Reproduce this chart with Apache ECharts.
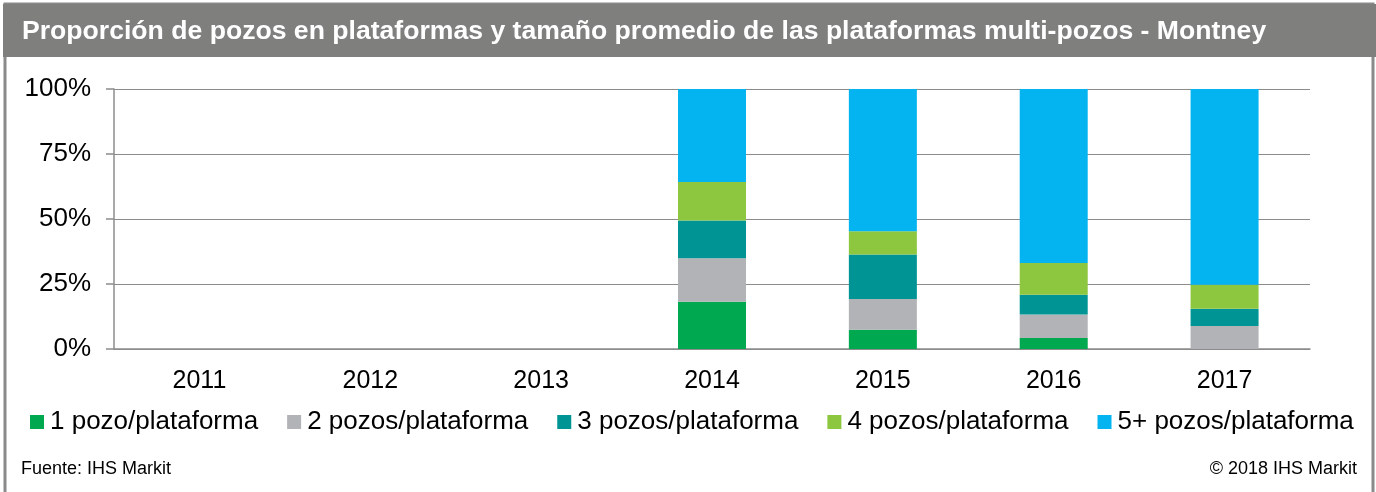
<!DOCTYPE html>
<html>
<head>
<meta charset="utf-8">
<script src="https://cdn.jsdelivr.net/npm/echarts@6/dist/echarts.min.js"></script>
<style>
  html, body { margin: 0; padding: 0; background: #fff; }
  #chart { width: 1376px; height: 492px; }
</style>
</head>
<body>
<div id="chart"></div>
<script>
const years = ['2011', '2012', '2013', '2014', '2015', '2016', '2017']

// shares in % per year (no wells before 2014)
const one = [null, null, null, 18.2, 7.4, 4.2, 0]
const two = [null, null, null, 16.7, 11.8, 9.1, 8.8]
const three = [null, null, null, 14.5, 17.1, 7.6, 6.7]
const four = [null, null, null, 14.8, 9.0, 12.2, 9.2]
const fivePlus = [null, null, null, 35.8, 54.7, 66.9, 75.3]

const seriesNames = ['1 pozo/plataforma', '2 pozos/plataforma', '3 pozos/plataforma', '4 pozos/plataforma', '5+ pozos/plataforma']
const colors = ['#00A84F', '#B1B3B6', '#009494', '#8DC63F', '#04B4F0']
const yTicks = [0, 25, 50, 75, 100]

const font = 'Liberation Sans, Arial, sans-serif'
const chart = echarts.init(document.getElementById('chart'))

const mkSeries = (name, data, i) => ({
    name,
    type: 'bar',
    stack: 'total',
    data,
    barWidth: 68,
    itemStyle: { color: colors[i] },
    emphasis: { disabled: true }
})

chart.setOption({
    animation: false,
    color: colors,
    textStyle: { fontFamily: font },
    grid: { left: 114, right: 66, top: 89, bottom: 143 },
    legend: {
        left: 25,
        top: 404,
        icon: 'rect',
        itemWidth: 14,
        itemHeight: 14,
        itemGap: 29,
        textStyle: { fontSize: 26, color: '#000', fontFamily: font, padding: [0, 0, 0, 1] },
        data: seriesNames
    },
    xAxis: {
        type: 'category',
        data: years,
        axisLine: { lineStyle: { color: '#8c8c8c', width: 1.5 } },
        axisTick: { length: 8, lineStyle: { color: '#8c8c8c', width: 1.5 } },
        axisLabel: { fontSize: 25, color: '#000', margin: 20 }
    },
    yAxis: {
        type: 'value',
        min: yTicks[0],
        max: yTicks[yTicks.length - 1],
        interval: 25,
        axisLine: { show: true, lineStyle: { color: '#8c8c8c', width: 1.5 } },
        axisTick: { show: true, length: 8, lineStyle: { color: '#8c8c8c', width: 1.5 } },
        splitLine: { lineStyle: { color: '#8c8c8c', width: 1.2 } },
        axisLabel: { fontSize: 26, color: '#000', margin: 23, formatter: '{value}%' }
    },
    graphic: [
        {
            type: 'rect',
            shape: { x: 5, y: 4, width: 1368, height: 500 },
            style: { fill: 'none', stroke: '#8a8a8a', lineWidth: 3 },
            silent: true
        },
        {
            type: 'rect',
            shape: { x: 3, y: 4, width: 1373, height: 53 },
            style: { fill: '#7f807e' },
            silent: true
        },
        {
            type: 'text',
            left: 22,
            top: 18,
            style: {
                text: 'Proporción de pozos en plataformas y tamaño promedio de las plataformas multi-pozos - Montney',
                fill: '#fff',
                font: 'bold 26.6px ' + font
            },
            silent: true
        },
        {
            type: 'text',
            left: 21,
            top: 460,
            style: { text: 'Fuente: IHS Markit', fill: '#000', font: '18px ' + font },
            silent: true
        },
        {
            type: 'text',
            right: 19,
            top: 460,
            style: { text: '© 2018 IHS Markit', fill: '#000', font: '18px ' + font },
            silent: true
        }
    ],
    series: [
        mkSeries(seriesNames[0], one, 0),
        mkSeries(seriesNames[1], two, 1),
        mkSeries(seriesNames[2], three, 2),
        mkSeries(seriesNames[3], four, 3),
        mkSeries(seriesNames[4], fivePlus, 4)
    ]
})
</script>
</body>
</html>
